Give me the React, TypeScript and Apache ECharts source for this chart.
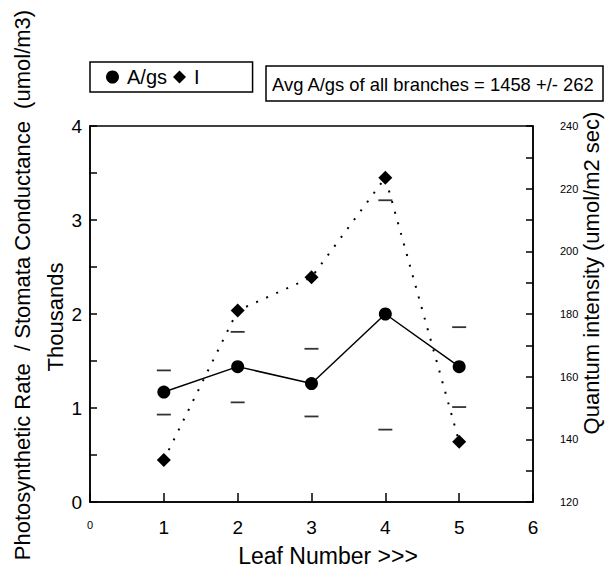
import React, { useEffect, useRef } from "react";
import * as echarts from "echarts";

const leafNumbers = [1, 2, 3, 4, 5];
const agsThousands = [1.17, 1.44, 1.26, 2.0, 1.44];
const agsUpper = [1.4, 1.81, 1.63, 3.21, 1.86];
const agsLower = [0.93, 1.06, 0.91, 0.77, 1.01];
const quantumIntensity = [133.4, 181.1, 191.7, 223.5, 139.2];

const leftTicks = [0, 1, 2, 3, 4];
const rightTicks = [120, 140, 160, 180, 200, 220, 240];
const xTicks = [0, 1, 2, 3, 4, 5, 6];

const FONT = "'Liberation Sans', Arial, Helvetica, sans-serif";

export default function App() {
  const ref = useRef<HTMLDivElement>(null);
  useEffect(() => {
    if (!ref.current) return;
    const chart = echarts.init(ref.current, undefined, { renderer: "svg" });
    const pair = (vals: number[]) => leafNumbers.map((x, i) => [x, vals[i]]);
    chart.setOption({
      animation: false,
      backgroundColor: "#fff",
      textStyle: { fontFamily: FONT, color: "#000" },
      grid: {
        left: 90,
        right: 73,
        top: 126,
        bottom: 71,
        show: true,
        borderColor: "#000",
        borderWidth: 1.5,
        backgroundColor: "transparent",
      },
      legend: {
        left: 90,
        top: 62,
        orient: "horizontal",
        borderColor: "#000",
        borderWidth: 1.5,
        borderRadius: 0,
        padding: [5, 53, 5, 16],
        itemWidth: 13,
        itemHeight: 13,
        itemGap: 6,
        textStyle: { fontSize: 20, fontFamily: FONT, color: "#000", padding: [0, 0, 0, 3] },
        data: [
          { name: "A/gs", icon: "circle" },
          { name: "I", icon: "diamond" },
        ],
      },
      xAxis: {
        type: "value",
        min: xTicks[0],
        max: xTicks[xTicks.length - 1],
        interval: 1,
        axisLine: { show: true, lineStyle: { color: "#000", width: 1.5 } },
        axisTick: { show: true, inside: true, length: 9, lineStyle: { color: "#000", width: 1.5 } },
        splitLine: { show: false },
        axisLabel: {
          margin: 16,
          fontSize: 19,
          color: "#000",
          fontFamily: FONT,
          formatter: (v: number) => (v === 0 ? "{s|0}" : String(v)),
          rich: { s: { fontSize: 11, fontFamily: FONT, color: "#000000", padding: [1, 0, 0, 0] } },
        },
      },
      yAxis: [
        {
          type: "value",
          min: leftTicks[0],
          max: leftTicks[leftTicks.length - 1],
          interval: 1,
          position: "left",
          axisLine: { show: true, lineStyle: { color: "#000", width: 1.5 } },
          axisTick: { show: true, inside: true, length: 7, lineStyle: { color: "#000", width: 1.5 } },
          minorTick: { show: true, splitNumber: 2, length: 7, lineStyle: { color: "#000", width: 1.5 } },
          splitLine: { show: false },
          minorSplitLine: { show: false },
          axisLabel: { margin: 8, fontSize: 19, color: "#000", fontFamily: FONT, padding: [8, 0, 0, 0] },
        },
        {
          type: "value",
          min: rightTicks[0],
          max: rightTicks[rightTicks.length - 1],
          interval: 20,
          position: "right",
          axisLine: { show: true, lineStyle: { color: "#000", width: 1.5 } },
          axisTick: { show: true, inside: true, length: 7, lineStyle: { color: "#000", width: 1.5 } },
          minorTick: { show: true, splitNumber: 2, length: 7, lineStyle: { color: "#000", width: 1.5 } },
          splitLine: { show: false },
          minorSplitLine: { show: false },
          axisLabel: { margin: 27, fontSize: 11, color: "#000", fontFamily: FONT },
        },
      ],
      series: [
        {
          name: "A/gs",
          type: "line",
          yAxisIndex: 0,
          data: pair(agsThousands),
          symbol: "circle",
          symbolSize: 13,
          itemStyle: { color: "#000" },
          lineStyle: { color: "#000", width: 1.5 },
          z: 5,
        },
        {
          name: "I",
          type: "line",
          yAxisIndex: 1,
          data: pair(quantumIntensity),
          symbol: "diamond",
          symbolSize: 14,
          itemStyle: { color: "#000" },
          lineStyle: { color: "#000", width: 2, type: [2, 9] },
          z: 4,
        },
        {
          name: "A/gs upper",
          type: "scatter",
          yAxisIndex: 0,
          data: pair(agsUpper),
          symbol: "rect",
          symbolSize: [14, 1.8],
          itemStyle: { color: "#000" },
          silent: true,
        },
        {
          name: "A/gs lower",
          type: "scatter",
          yAxisIndex: 0,
          data: pair(agsLower),
          symbol: "rect",
          symbolSize: [14, 1.8],
          itemStyle: { color: "#000" },
          silent: true,
        },
      ],
      graphic: [
        {
          type: "rect",
          shape: { x: 266, y: 66, width: 337, height: 35 },
          style: { fill: "#fff", stroke: "#000", lineWidth: 1.5 },
        },
        {
          type: "text",
          x: 272,
          y: 84,
          style: {
            text: "Avg A/gs of all branches = 1458 +/- 262",
            font: `18.4px ${FONT}`,
            fill: "#000",
            textAlign: "left",
            textVerticalAlign: "middle",
          },
        },
        {
          type: "text",
          x: 22,
          y: 285,
          rotation: Math.PI / 2,
          style: {
            text: "Photosynthetic Rate  / Stomata Conductance  (umol/m3)",
            font: `22px ${FONT}`,
            fill: "#000",
            textAlign: "center",
            textVerticalAlign: "middle",
          },
        },
        {
          type: "text",
          x: 55,
          y: 317,
          rotation: Math.PI / 2,
          style: {
            text: "Thousands",
            font: `22px ${FONT}`,
            fill: "#000",
            textAlign: "center",
            textVerticalAlign: "middle",
          },
        },
        {
          type: "text",
          x: 591,
          y: 273,
          rotation: Math.PI / 2,
          style: {
            text: "Quantum intensity (umol/m2 sec)",
            font: `22px ${FONT}`,
            fill: "#000",
            textAlign: "center",
            textVerticalAlign: "middle",
          },
        },
        {
          type: "text",
          x: 328,
          y: 556,
          style: {
            text: "Leaf Number >>>",
            font: `23px ${FONT}`,
            fill: "#000",
            textAlign: "center",
            textVerticalAlign: "middle",
          },
        },
      ],
    });
    return () => chart.dispose();
  }, []);
  return <div ref={ref} style={{ width: 606, height: 573, position: "absolute", left: 0, top: 0 }} />;
}
